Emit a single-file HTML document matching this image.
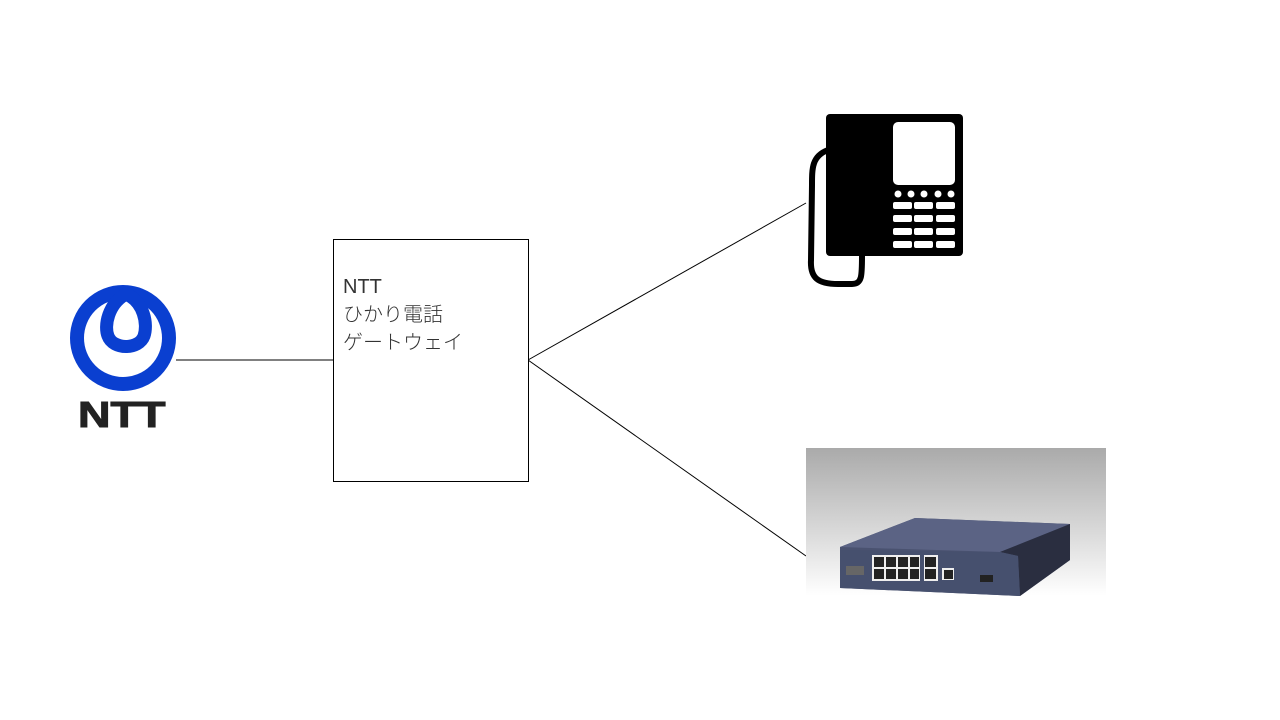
<!DOCTYPE html>
<html><head><meta charset="utf-8"><style>
body{margin:0;width:1280px;height:720px;background:#fff;position:relative;overflow:hidden;font-family:"Liberation Sans","Noto Sans CJK JP",sans-serif}
.box{position:absolute;left:333px;top:239px;width:194px;height:241px;border:1px solid #000;background:#fff}
.t{position:absolute;left:343px;top:273px;font-size:20px;line-height:28px;color:#333;font-weight:300}
.ntt{position:absolute;left:78px;top:394px;font-size:36px;font-weight:bold;color:#222;font-family:"Liberation Sans",sans-serif;transform:scaleX(1.25);transform-origin:left;-webkit-text-stroke:1px #222}
.router{position:absolute;left:806px;top:448px;width:300px;height:164px;background:linear-gradient(#aaa,#ddd 55%,#fff 90%)}
</style></head><body>
<svg width="1280" height="720" style="position:absolute;left:0;top:0">
<line x1="176" y1="360" x2="333" y2="360" stroke="#000" stroke-width="1"/>
<line x1="528" y1="360" x2="806" y2="203" stroke="#000" stroke-width="1"/>
<line x1="528" y1="360" x2="806" y2="556" stroke="#000" stroke-width="1"/>
</svg>
<div class="box"></div>
<div class="t">NTT<br>ひかり電話<br>ゲートウェイ</div>
<svg width="1280" height="720" style="position:absolute;left:0;top:0">
<circle cx="123" cy="338" r="46" fill="none" stroke="#0a3fd0" stroke-width="14"/>
<path d="M126 294 C108 304 104 326 108 336 C113 350 139 350 144 336 C148 324 144 302 126 294 Z" fill="none" stroke="#0a3fd0" stroke-width="13"/>
<path d="M828 150 C812 156 812 168 812 185 L811 260 C810 278 818 284 838 284 L852 284 C862 284 862 276 862 256" fill="none" stroke="#000" stroke-width="6"/>
<rect x="826" y="114" width="137" height="142" rx="4" fill="#000"/>
<rect x="893" y="122" width="62" height="63" rx="5" fill="#fff"/>
<g fill="#fff">
<circle cx="898" cy="194" r="3.5"/><circle cx="911" cy="194" r="3.5"/><circle cx="924" cy="194" r="3.5"/><circle cx="938" cy="194" r="3.5"/><circle cx="951" cy="194" r="3.5"/>
<rect x="893" y="202" width="19" height="7" rx="2"/><rect x="914" y="202" width="19" height="7" rx="2"/><rect x="936" y="202" width="19" height="7" rx="2"/>
<rect x="893" y="215" width="19" height="7" rx="2"/><rect x="914" y="215" width="19" height="7" rx="2"/><rect x="936" y="215" width="19" height="7" rx="2"/>
<rect x="893" y="228" width="19" height="7" rx="2"/><rect x="914" y="228" width="19" height="7" rx="2"/><rect x="936" y="228" width="19" height="7" rx="2"/>
<rect x="893" y="241" width="19" height="7" rx="2"/><rect x="914" y="241" width="19" height="7" rx="2"/><rect x="936" y="241" width="19" height="7" rx="2"/>
</g>
</svg>
<div class="ntt">NTT</div>
<div class="router"></div>
<svg width="1280" height="720" style="position:absolute;left:0;top:0">
<polygon points="840,547 915,518 1070,524 1070,560 1020,596 840,588" fill="#4a5270"/>
<polygon points="840,547 915,518 1070,524 1000,552" fill="#5b6384"/>
<polygon points="1000,552 1070,524 1070,560 1020,596 1018,556" fill="#2a2e40"/>
<polygon points="840,550 1000,552 1018,556 1020,596 840,588" fill="#46506e"/>
<g fill="#eee"><rect x="872" y="555" width="48" height="26"/><rect x="924" y="555" width="14" height="26"/><rect x="942" y="568" width="12" height="12"/></g>
<g fill="#222"><rect x="874" y="557" width="10" height="10"/><rect x="886" y="557" width="10" height="10"/><rect x="898" y="557" width="10" height="10"/><rect x="910" y="557" width="9" height="10"/><rect x="874" y="569" width="10" height="10"/><rect x="886" y="569" width="10" height="10"/><rect x="898" y="569" width="10" height="10"/><rect x="910" y="569" width="9" height="10"/><rect x="925" y="557" width="11" height="10"/><rect x="925" y="569" width="11" height="10"/><rect x="944" y="570" width="9" height="9"/><rect x="846" y="566" width="18" height="9" fill="#666"/><rect x="980" y="575" width="13" height="7"/></g>
</svg>
</body></html>
